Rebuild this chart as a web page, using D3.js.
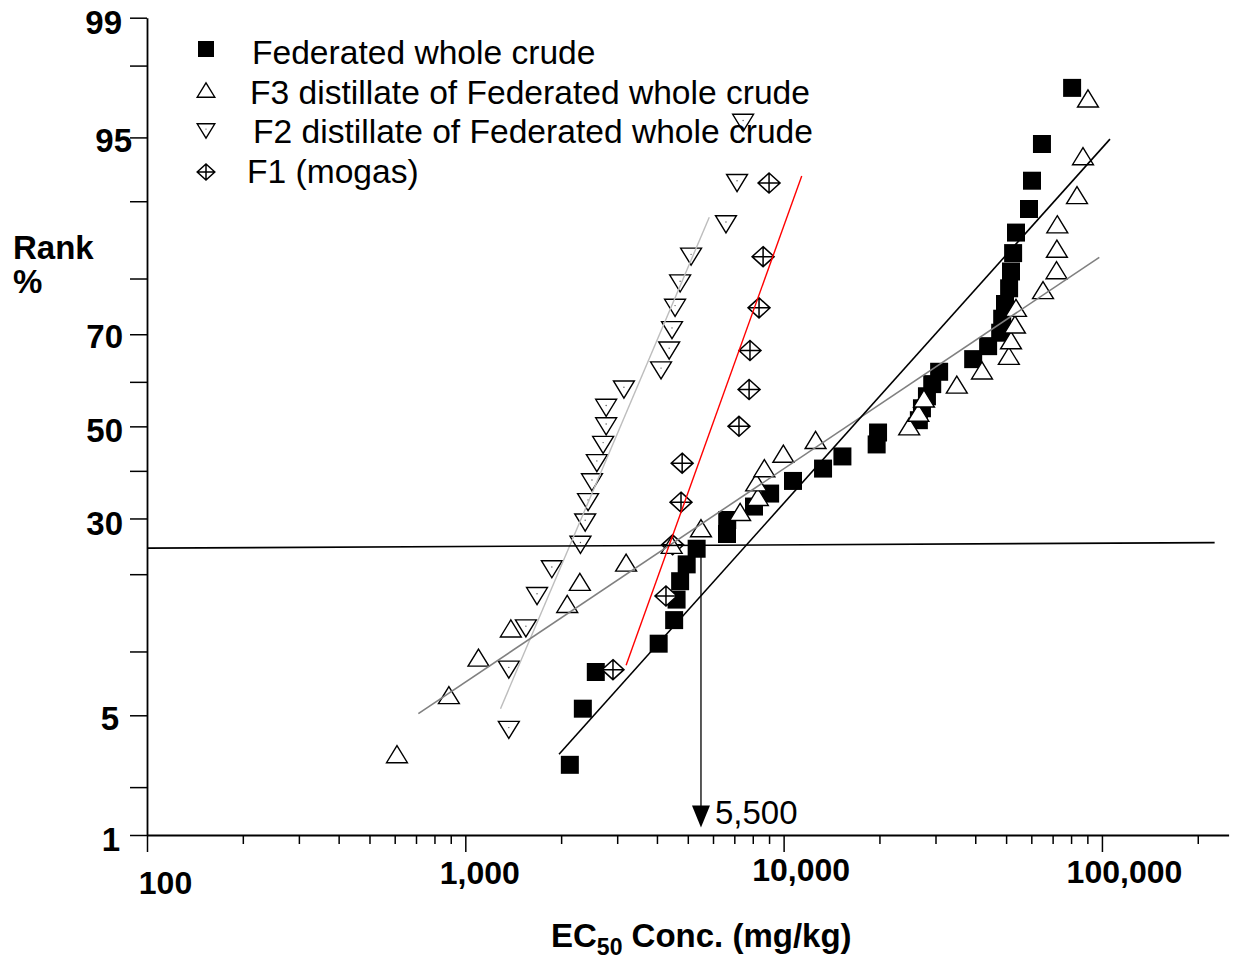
<!DOCTYPE html>
<html>
<head>
<meta charset="utf-8">
<script src="https://cdn.jsdelivr.net/npm/d3@7"></script>
<style>
  body { margin: 0; background: #fff; }
  svg { display: block; }
  text { font-family: "Liberation Sans", Arial, Helvetica, sans-serif; fill: #000; }
</style>
</head>
<body>
<svg id="chart" width="1236" height="963"></svg>
<script>
// ---- data: EC50 (mg/kg) and cumulative rank (%) ----
const crudeConc = [2130, 2340, 2570, 4050, 4530, 4610, 4730, 4960, 5330, 6640, 6650, 8070, 9070, 10700,
  13300, 15300, 19600, 19800, 26600, 27200, 28200, 29300, 30800, 39400, 43900, 47900, 48600, 49600,
  51100, 51800, 52600, 53700, 59000, 60300, 64800, 80600];
const crudeRank = [2.7, 5.4, 8.1, 10.8, 13.5, 16.2, 18.9, 21.6, 24.3, 27.0, 29.7, 32.4, 35.1, 37.8,
  40.5, 43.2, 45.9, 48.6, 51.4, 54.1, 56.8, 59.5, 62.2, 64.9, 67.6, 70.3, 73.0, 75.7,
  78.4, 81.1, 83.8, 86.5, 89.2, 91.9, 94.6, 97.3];

const f3Conc = [610, 888, 1100, 1390, 2090, 2290, 3200, 4450, 5500, 7300, 8300, 8200, 8700, 9980,
  12600, 24800, 26500, 27600, 35000, 42000, 51000, 51800, 53300, 53700, 65300, 72000, 72200, 72400,
  83500, 87200, 90400];
const f3Rank = [3.1, 6.3, 9.4, 12.5, 15.6, 18.8, 21.9, 25.0, 28.1, 31.3, 34.4, 37.5, 40.6, 43.8,
  46.9, 50.0, 53.1, 56.3, 59.4, 62.5, 65.6, 68.8, 71.9, 75.0, 78.1, 81.3, 84.4, 87.5,
  90.6, 93.8, 96.9];

const f2Conc = [1370, 1370, 1550, 1680, 1870, 2300, 2380, 2430, 2500, 2590, 2710, 2770, 2770, 3150,
  4120, 4370, 4460, 4560, 4730, 5120, 6590, 7140, 7460];
const f2Rank = [4.2, 8.3, 12.5, 16.7, 20.8, 25.0, 29.2, 33.3, 37.5, 41.7, 45.8, 50.0, 54.2, 58.3,
  62.5, 66.7, 70.8, 75.0, 79.2, 83.3, 87.5, 91.7, 95.8];

const f1Conc = [2910, 4270, 4480, 4760, 4800, 7240, 7790, 7840, 8370, 8620, 9000];
const f1Rank = [8.3, 16.7, 25.0, 33.3, 41.7, 50.0, 58.3, 66.7, 75.0, 83.3, 91.7];

// fitted log-normal lines: [conc, rank] end points
const crudeFit = [[1970, 3.1], [106000, 94.9]];
const f3Fit = [[712, 5.1], [98100, 83.2]];
const f2Fit = [[1290, 5.4], [5840, 88.3]];
const f1Fit = [[3200, 8.7], [11400, 92.3]];

// 25th-percentile reference line and the concentration it marks
const refLine = [[100, 24.4], [226000, 25.4]];
const hc25 = 5500;
const hc25Label = "5,500";

const seriesNames = ["Federated whole crude", "F3 distillate of Federated whole crude",
  "F2 distillate of Federated whole crude", "F1 (mogas)"];

const xTickValues = [100, 200, 300, 400, 500, 600, 700, 800, 900,
  1000, 2000, 3000, 4000, 5000, 6000, 7000, 8000, 9000,
  10000, 20000, 30000, 40000, 50000, 60000, 70000, 80000, 90000,
  100000, 200000];
const xMajor = [100, 1000, 10000, 100000];
const yTickValues = [1, 2, 5, 10, 20, 30, 40, 50, 60, 70, 80, 90, 95, 98, 99];
const yLabelled = [1, 5, 30, 50, 70, 95, 99];

// ---- inverse standard normal CDF (Acklam) for the probability axis ----
function invNorm(p) {
  const a = [-3.969683028665376e+01, 2.209460984245205e+02, -2.759285104469687e+02,
             1.383577518672690e+02, -3.066479806614716e+01, 2.506628277459239e+00];
  const b = [-5.447609879822406e+01, 1.615858368580409e+02, -1.556989798598866e+02,
             6.680131188771972e+01, -1.328068155288572e+01];
  const c = [-7.784894002430293e-03, -3.223964580411365e-01, -2.400758277161838e+00,
             -2.549732539343734e+00, 4.374664141464968e+00, 2.938163982698783e+00];
  const d = [7.784695709041462e-03, 3.224671290700398e-01, 2.445134137142996e+00,
             3.754408661907416e+00];
  const pl = 0.02425, ph = 1 - pl;
  let q, r;
  if (p < pl) {
    q = Math.sqrt(-2 * Math.log(p));
    return (((((c[0]*q+c[1])*q+c[2])*q+c[3])*q+c[4])*q+c[5]) / ((((d[0]*q+d[1])*q+d[2])*q+d[3])*q+1);
  }
  if (p <= ph) {
    q = p - 0.5; r = q * q;
    return (((((a[0]*r+a[1])*r+a[2])*r+a[3])*r+a[4])*r+a[5])*q / (((((b[0]*r+b[1])*r+b[2])*r+b[3])*r+b[4])*r+1);
  }
  q = Math.sqrt(-2 * Math.log(1 - p));
  return -(((((c[0]*q+c[1])*q+c[2])*q+c[3])*q+c[4])*q+c[5]) / ((((d[0]*q+d[1])*q+d[2])*q+d[3])*q+1);
}

// probability scale in percent, built on a linear scale of z-scores
function probScale(lin) {
  const s = p => lin(invNorm(p / 100));
  s.copy = () => probScale(lin.copy());
  s.range = () => lin.range();
  s.domain = () => [1, 99];
  return s;
}

const svg = d3.select("#chart");
const x = d3.scaleLog().domain([100, 250000]).range([147, 1228.6]);
const y = probScale(d3.scaleLinear().domain([invNorm(0.01), invNorm(0.99)]).range([835, 17.7]));

// ---- axes ----
const yAxis = svg.append("g")
  .attr("transform", "translate(147,0)")
  .call(d3.axisLeft(y).tickValues(yTickValues).tickSize(17).tickSizeOuter(0).tickPadding(8)
    .tickFormat(p => yLabelled.includes(p) ? String(p) : ""));
yAxis.select(".domain").attr("stroke-width", 1.8);
yAxis.selectAll(".tick line").attr("stroke-width", 1.5);
const yNudge = { 99: [0, 5], 95: [10, 4], 70: [1, 3], 50: [1, 5], 30: [1, 5], 5: [-3, 4], 1: [-2, 5] };
yAxis.selectAll(".tick text")
  .attr("font-size", 33).attr("font-weight", "bold")
  .attr("font-family", "'Liberation Sans', Arial, sans-serif")
  .attr("transform", p => yNudge[p] ? `translate(${yNudge[p][0]},${yNudge[p][1]})` : null);

const xAxis = svg.append("g")
  .attr("transform", "translate(0,835)")
  .call(d3.axisBottom(x).tickValues(xTickValues).tickSize(9).tickSizeOuter(0).tickPadding(10)
    .tickFormat(v => xMajor.includes(v) ? d3.format(",")(v) : ""));
xAxis.select(".domain").attr("stroke-width", 1.8);
xAxis.selectAll(".tick line").attr("stroke-width", 1.5)
  .attr("y2", v => xMajor.includes(v) ? 17 : 9);
// label baseline offsets below the axis line
const xNudge = { 100: [18, 59], 1000: [14, 49], 10000: [17, 46], 100000: [22, 48] };
xAxis.selectAll(".tick text")
  .attr("font-size", 32).attr("font-weight", "bold").attr("dy", null)
  .attr("font-family", "'Liberation Sans', Arial, sans-serif")
  .attr("y", 0)
  .attr("transform", v => xNudge[v] ? `translate(${xNudge[v][0]},${xNudge[v][1]})` : null);

// axis titles
svg.append("text").attr("x", 13).attr("y", 259)
  .attr("font-size", 33).attr("font-weight", "bold").text("Rank");
svg.append("text").attr("x", 13).attr("y", 293)
  .attr("font-size", 33).attr("font-weight", "bold").text("%");

const xt = svg.append("text").attr("x", 551).attr("y", 947)
  .attr("font-size", 33).attr("font-weight", "bold");
xt.append("tspan").text("EC");
xt.append("tspan").attr("font-size", 23).attr("dy", 8).text("50");
xt.append("tspan").attr("dy", -8).text(" Conc. (mg/kg)");

// ---- marker shapes ----
const shapes = {
  square: s => `M${-s/2},${-s/2}h${s}v${s}h${-s}Z`,
  up: s => `M0,${-s*0.45}L${s*0.55},${s*0.45}L${-s*0.55},${s*0.45}Z`,
  down: s => `M${-s*0.55},${-s*0.45}L${s*0.55},${-s*0.45}L0,${s*0.45}Z`,
  diamond: s => `M0,${-s*0.5}L${s*0.55},0L0,${s*0.5}L${-s*0.55},0Z` +
    `M0,${-s*0.5}V${s*0.5}M${-s*0.55},0H${s*0.55}`
};

function drawMarker(g, kind, size) {
  if (kind === "square") {
    g.append("path").attr("d", shapes.square(size)).attr("fill", "#000");
  } else if (kind === "up") {
    g.append("path").attr("d", shapes.up(size)).attr("fill", "#fff")
      .attr("stroke", "#000").attr("stroke-width", 1.4).attr("stroke-linejoin", "miter");
  } else if (kind === "down") {
    g.append("path").attr("d", shapes.down(size)).attr("fill", "#fff")
      .attr("stroke", "#000").attr("stroke-width", 1.4);
    g.append("circle").attr("cx", 0).attr("cy", -size * 0.12).attr("r", 0.7).attr("fill", "#555");
  } else {
    g.append("path").attr("d", shapes.diamond(size)).attr("fill", "#fff")
      .attr("stroke", "#000").attr("stroke-width", 1.5);
  }
}

function drawSeries(conc, rank, kind, size) {
  const pts = conc.map((c, i) => ({ c, r: rank[i] }));
  svg.append("g").selectAll("g").data(pts).join("g")
    .attr("transform", d => `translate(${x(d.c)},${y(d.r)})`)
    .each(function () { drawMarker(d3.select(this), kind, size); });
}

// draw order: crude, F1, F2, F3 markers
drawSeries(crudeConc, crudeRank, "square", 18);
drawSeries(f1Conc, f1Rank, "diamond", 20);
drawSeries(f2Conc, f2Rank, "down", 19);
drawSeries(f3Conc, f3Rank, "up", 19);

// ---- fitted lines ----
const line = d3.line().x(d => x(d[0])).y(d => y(d[1]));
svg.append("path").attr("d", line(f2Fit)).attr("fill", "none").attr("stroke", "#bdbdbd").attr("stroke-width", 1.4);
svg.append("path").attr("d", line(f3Fit)).attr("fill", "none").attr("stroke", "#808080").attr("stroke-width", 1.6);
svg.append("path").attr("d", line(f1Fit)).attr("fill", "none").attr("stroke", "#ff0000").attr("stroke-width", 1.4);
svg.append("path").attr("d", line(crudeFit)).attr("fill", "none").attr("stroke", "#000").attr("stroke-width", 1.6);

// reference line and arrow down to the axis
svg.append("path").attr("d", line(refLine)).attr("fill", "none").attr("stroke", "#000").attr("stroke-width", 1.6);
const ax = x(hc25), aTop = y(25), aTip = y(1.12);
svg.append("line").attr("x1", ax).attr("x2", ax).attr("y1", aTop).attr("y2", aTip - 18)
  .attr("stroke", "#000").attr("stroke-width", 1.3);
svg.append("path").attr("d", `M${ax - 9},${aTip - 22}L${ax + 9},${aTip - 22}L${ax},${aTip}Z`).attr("fill", "#000");
svg.append("text").attr("x", ax + 14).attr("y", aTip - 3).attr("font-size", 33).text(hc25Label);

// ---- legend ----
const legendKinds = ["square", "up", "down", "diamond"];
const legendSymY = [49, 90, 131, 172];
const legendTextX = [252, 250, 253, 247];
const legendTextY = [64, 104, 143, 183];
const lg = svg.append("g");
seriesNames.forEach((name, i) => {
  const g = lg.append("g").attr("transform", `translate(206,${legendSymY[i]})`);
  drawMarker(g, legendKinds[i], 16);
  lg.append("text").attr("x", legendTextX[i]).attr("y", legendTextY[i]).attr("font-size", 33.6).text(name);
});
</script>
</body>
</html>
